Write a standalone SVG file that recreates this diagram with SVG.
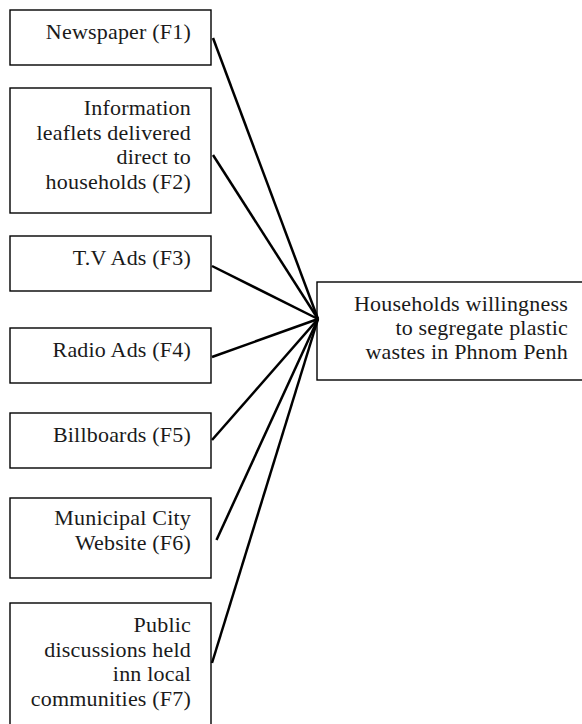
<svg xmlns="http://www.w3.org/2000/svg" width="582" height="724" viewBox="0 0 582 724">
<style>
.box{fill:#fff;stroke:#000;stroke-width:1.4}
.t{font-family:"Liberation Serif","Times New Roman",serif;font-size:22px;letter-spacing:0.2px;fill:#1a1a1a;text-anchor:end}
.c{stroke:#000;stroke-width:2.5;fill:none;stroke-linecap:butt}
</style>
<rect width="582" height="724" fill="#fff"/>
<g id="f1"><rect class="box" x="10" y="10" width="201" height="55"/><text class="t" x="191" y="39">Newspaper (F1)</text></g>
<g id="f2"><rect class="box" x="10" y="88" width="201" height="125"/><text class="t" x="191" y="115">Information</text><text class="t" x="191" y="139.5">leaflets delivered</text><text class="t" x="191" y="164">direct to</text><text class="t" x="191" y="188.5">households (F2)</text></g>
<g id="f3"><rect class="box" x="10" y="236" width="201" height="55"/><text class="t" x="191" y="265">T.V Ads (F3)</text></g>
<g id="f4"><rect class="box" x="10" y="328" width="201" height="55"/><text class="t" x="191" y="357">Radio Ads (F4)</text></g>
<g id="f5"><rect class="box" x="10" y="413" width="201" height="55"/><text class="t" x="191" y="442">Billboards (F5)</text></g>
<g id="f6"><rect class="box" x="10" y="498" width="201" height="80"/><text class="t" x="191" y="525">Municipal City</text><text class="t" x="191" y="550">Website (F6)</text></g>
<g id="f7"><rect class="box" x="10" y="603" width="201" height="130"/><text class="t" x="191" y="632">Public</text><text class="t" x="191" y="656.5">discussions held</text><text class="t" x="191" y="681">inn local</text><text class="t" x="191" y="705.5">communities (F7)</text></g>
<g id="target"><rect class="box" x="317" y="282" width="280" height="98"/><text class="t" x="568" y="311">Households willingness</text><text class="t" x="568" y="335">to segregate plastic</text><text class="t" x="568" y="359">wastes in Phnom Penh</text></g>
<g id="connectors">
<line class="c" x1="213" y1="38" x2="318" y2="319"/>
<line class="c" x1="213" y1="155" x2="318" y2="319"/>
<line class="c" x1="212" y1="266" x2="318" y2="319"/>
<line class="c" x1="212" y1="357" x2="318" y2="319"/>
<line class="c" x1="212" y1="440" x2="318" y2="319"/>
<line class="c" x1="216.5" y1="540" x2="318" y2="319"/>
<line class="c" x1="212" y1="663" x2="318" y2="319"/>
</g>
</svg>
